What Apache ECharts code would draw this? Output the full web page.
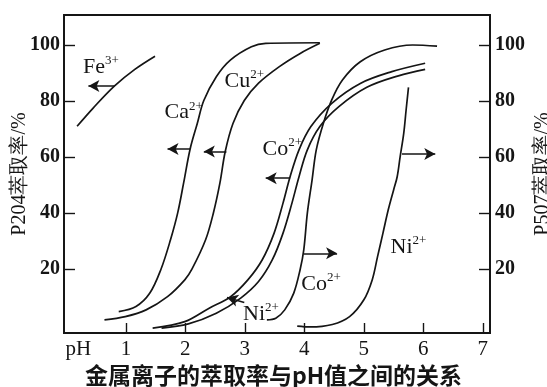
<!DOCTYPE html>
<html>
<head>
<meta charset="utf-8">
<script src="https://cdn.jsdelivr.net/npm/echarts@6/dist/echarts.min.js"></script>
<style>
html,body{margin:0;padding:0;background:#fff;}
#c{width:547px;height:387px;}
</style>
</head>
<body>
<div id="c"></div>
<script>
// ---- data (pH, extraction %) ----
const xTicks = [1, 2, 3, 4, 5, 6, 7];
const yTicks = [20, 40, 60, 80, 100];
const fe3 = [[0.18,71],[0.45,77.5],[0.81,85.4],[1.15,91.3],[1.49,96]];
const ca2 = [[0.88,4.9],[1.17,6.7],[1.40,11.4],[1.59,20],[1.75,30.5],[1.87,40],[1.97,50.7],[2.08,62.9],[2.20,72],[2.31,80.2],[2.52,88.7],[2.76,94.7],[3.11,99.4],[3.35,100.6],[4.26,100.8]];
const cu2 = [[0.64,1.9],[0.99,3.1],[1.34,5.5],[1.70,10.2],[1.99,16.2],[2.11,20],[2.34,30.5],[2.47,40],[2.58,50.7],[2.67,62],[2.80,72],[2.99,80.2],[3.23,86.4],[3.58,92.3],[3.93,97],[4.26,100.6]];
const coP204 = [[1.45,-1],[1.99,1.3],[2.40,6.1],[2.76,10.2],[3.05,16.2],[3.29,23.3],[3.49,32.8],[3.64,43.5],[3.76,53],[3.91,62.6],[4.11,70.9],[4.46,79.2],[4.94,86.3],[5.47,90.5],[6.03,93.5]];
const niP204 = [[1.6,-1],[2.05,0.5],[2.52,4.3],[2.93,9.7],[3.23,15.6],[3.46,23.3],[3.64,32.8],[3.79,43.5],[3.91,53],[4.05,62.6],[4.26,70.9],[4.58,78],[5.05,84.9],[5.58,89],[6.03,91.3]];
const coP507 = [[3.37,1.9],[3.52,2.5],[3.67,5.5],[3.82,11.4],[3.93,20],[3.99,26.9],[4.05,40],[4.13,51.9],[4.20,62.6],[4.32,72.1],[4.46,80.4],[4.64,87.5],[4.94,94],[5.35,98.2],[5.82,100],[6.23,99.6]];
const niP507 = [[3.88,-0.3],[4.1,-0.6],[4.47,0.3],[4.76,3.1],[5.00,9.1],[5.14,16.2],[5.23,24.5],[5.32,32.8],[5.41,41.2],[5.50,48.3],[5.56,53],[5.61,60.2],[5.67,68.5],[5.71,76.8],[5.75,84.9]];
// arrows: [xFrom, yFrom, xTo, yTo]
const arrows = [[0.81,85.4,0.37,85.4],[2.08,62.9,1.70,62.9],[2.69,62,2.31,62],[3.76,52.5,3.35,52.5],[3.99,25.7,4.55,25.7],[5.64,61.1,6.20,61.1],[2.99,8.1,2.70,9.9]];
// ion labels: [x, y, symbol, charge]
const ionLabels = [[0.58,92.3,'Fe','3+'],[2.99,87.5,'Cu','2+'],[1.97,76.2,'Ca','2+'],[3.63,63.2,'Co','2+'],[4.28,15,'Co','2+'],[3.27,4.3,'Ni','2+'],[5.75,28.1,'Ni','2+']];
const yNameLeft = 'P204萃取率/%';
const yNameRight = 'P507萃取率/%';
const title = '金属离子的萃取率与pH值之间的关系';

const ink = '#151515';
const serif = '"Liberation Serif","DejaVu Serif",serif';
const curves = [fe3, ca2, cu2, coP204, niP204, coP507, niP507];

const series = curves.map(d => ({
  type: 'line', data: d, showSymbol: false, smooth: 0.35,
  lineStyle: {color: ink, width: 1.7}, silent: true, z: 3
}));
series.push({
  type: 'line', data: [], silent: true,
  markLine: {
    silent: true, symbol: ['none', 'arrow'], symbolSize: [9, 11],
    label: {show: false},
    lineStyle: {color: ink, width: 1.5, type: 'solid'},
    data: arrows.map(a => [{coord: [a[0], a[1]]}, {coord: [a[2], a[3]]}])
  }
});
series.push({
  type: 'scatter', data: ionLabels, symbolSize: 0, silent: true, z: 5,
  itemStyle: {color: ink, opacity: 1},
  label: {
    show: true, position: 'inside', color: ink, textBorderWidth: 0, textBorderColor: 'transparent',
    formatter: p => '{b|' + p.data[2] + '}{s|' + p.data[3] + '}',
    rich: {
      b: {fontFamily: serif, fontSize: 22, color: ink, textBorderWidth: 0, lineHeight: 24, verticalAlign: 'bottom'},
      s: {fontFamily: serif, fontSize: 13, color: ink, textBorderWidth: 0, lineHeight: 24, verticalAlign: 'top', padding: [0,0,7,0]}
    }
  }
});

const chart = echarts.init(document.getElementById('c'), null, {renderer: 'canvas'});
chart.setOption({
  animation: false,
  backgroundColor: '#fff',
  grid: {left: 64, right: 57, top: 15, bottom: 54, outerBoundsMode: 'none', containLabel: false, show: true, borderColor: ink, borderWidth: 1.8, backgroundColor: 'transparent'},
  title: {text: title, left: 'center', top: 359, textStyle: {fontFamily: '"Noto Sans CJK SC"', fontSize: 23, fontWeight: 'bold', color: ink}},
  xAxis: {
    type: 'value', min: -0.04, max: 7.12,
    axisLine: {onZero: false, lineStyle: {color: ink, width: 1.8}},
    axisTick: {inside: true, length: 10, customValues: xTicks, lineStyle: {color: ink, width: 1.4}},
    axisLabel: {customValues: [0.2].concat(xTicks), formatter: v => v < 0.5 ? 'pH' : String(v), fontFamily: serif, fontSize: 21, color: ink, margin: 6},
    splitLine: {show: false}
  },
  yAxis: [
    {
      type: 'value', min: -2.75, max: 110.7, position: 'left',
      name: yNameLeft, nameLocation: 'middle', nameRotate: 90, nameGap: 34, nameMoveOverlap: false,
      nameTextStyle: {fontFamily: serif, fontSize: 20, color: ink},
      axisLine: {show: true, onZero: false, lineStyle: {color: ink, width: 1.8}},
      axisTick: {show: true, inside: true, length: 11, customValues: yTicks, lineStyle: {color: ink, width: 1.4}},
      axisLabel: {customValues: yTicks, fontFamily: serif, fontSize: 20, fontWeight: 'bold', color: ink, margin: 4},
      splitLine: {show: false}
    },
    {
      type: 'value', min: -2.75, max: 110.7, position: 'right',
      name: yNameRight, nameLocation: 'middle', nameRotate: 90, nameGap: 43, nameMoveOverlap: false,
      nameTextStyle: {fontFamily: serif, fontSize: 20, color: ink},
      axisLine: {show: true, onZero: false, lineStyle: {color: ink, width: 1.8}},
      axisTick: {show: true, inside: true, length: 11, customValues: yTicks, lineStyle: {color: ink, width: 1.4}},
      axisLabel: {customValues: yTicks, fontFamily: serif, fontSize: 20, fontWeight: 'bold', color: ink, margin: 5},
      splitLine: {show: false}
    }
  ],
  series: series
});
</script>
</body>
</html>
